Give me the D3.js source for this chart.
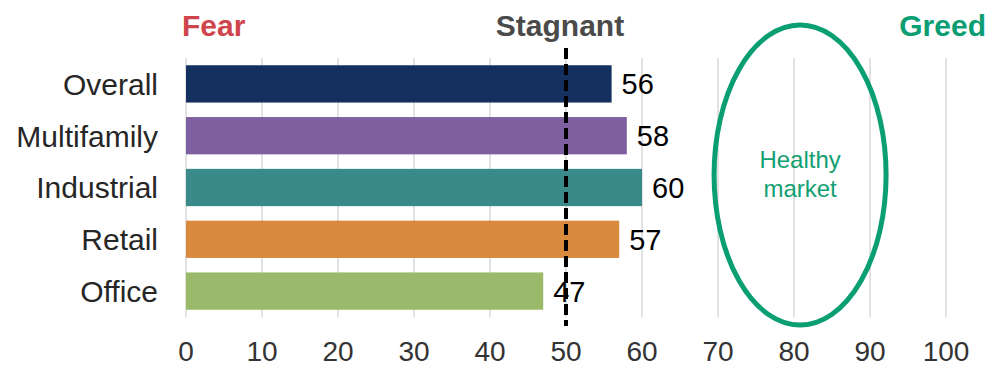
<!DOCTYPE html>
<html>
<head>
<meta charset="utf-8">
<script src="https://cdn.jsdelivr.net/npm/d3@7"></script>
<style>
  body { margin: 0; background: #fff; }
  text { font-family: "Liberation Sans", Arial, sans-serif; }
</style>
</head>
<body>
<svg id="chart" width="988" height="367"></svg>
<script>
var categories = ["Overall", "Multifamily", "Industrial", "Retail", "Office"];
var values = [56, 58, 60, 57, 47];
var barColors = ["#13305f", "#7e5f9f", "#3b8a8a", "#d98a3e", "#9bb96a"];
var ticks = [0, 10, 20, 30, 40, 50, 60, 70, 80, 90, 100];
var stagnantAt = 50;
var healthyCenter = 80.8;

var svg = d3.select("#chart");
var x = d3.scaleLinear().domain([0, 100]).range([186, 946]);
var y = d3.scaleBand().domain(categories).range([58, 317])
    .paddingInner(0.28).paddingOuter(0.14);

// gridlines
svg.append("g").selectAll("line").data(ticks).enter().append("line")
    .attr("x1", function(d) { return x(d); })
    .attr("x2", function(d) { return x(d); })
    .attr("y1", 58).attr("y2", 317)
    .attr("stroke", "#d9d9d9").attr("stroke-width", 1.5);

// tick labels
svg.append("g").selectAll("text").data(ticks).enter().append("text")
    .attr("x", function(d) { return x(d); })
    .attr("y", 361)
    .attr("text-anchor", "middle")
    .attr("font-size", 28)
    .attr("fill", "#333")
    .text(String);

// bars
svg.append("g").selectAll("rect").data(values).enter().append("rect")
    .attr("x", x(0))
    .attr("y", function(d, i) { return y(categories[i]); })
    .attr("width", function(d) { return x(d) - x(0); })
    .attr("height", y.bandwidth())
    .attr("fill", function(d, i) { return barColors[i]; });

// category labels
svg.append("g").selectAll("text").data(categories).enter().append("text")
    .attr("x", 158)
    .attr("y", function(d) { return y(d) + y.bandwidth() / 2; })
    .attr("dy", "0.36em")
    .attr("text-anchor", "end")
    .attr("font-size", 30)
    .attr("fill", "#262626")
    .text(String);

// dashed stagnant line
svg.append("line")
    .attr("x1", x(stagnantAt)).attr("x2", x(stagnantAt))
    .attr("y1", 48).attr("y2", 326)
    .attr("stroke", "#000").attr("stroke-width", 4)
    .attr("stroke-dasharray", "11,5");

// value labels
svg.append("g").selectAll("text").data(values).enter().append("text")
    .attr("x", function(d) { return x(d) + 10; })
    .attr("y", function(d, i) { return y(categories[i]) + y.bandwidth() / 2; })
    .attr("dy", "0.36em")
    .attr("font-size", 29)
    .attr("fill", "#000")
    .text(String);

// healthy market ellipse
svg.append("ellipse")
    .attr("cx", x(healthyCenter)).attr("cy", 175)
    .attr("rx", 86).attr("ry", 150)
    .attr("fill", "none")
    .attr("stroke", "#0a9e73").attr("stroke-width", 5);

svg.append("text")
    .attr("x", x(healthyCenter)).attr("y", 168)
    .attr("text-anchor", "middle").attr("font-size", 24)
    .attr("fill", "#11a072")
    .text("Healthy");
svg.append("text")
    .attr("x", x(healthyCenter)).attr("y", 197)
    .attr("text-anchor", "middle").attr("font-size", 24)
    .attr("fill", "#11a072")
    .text("market");

// headings
svg.append("text").attr("x", 182).attr("y", 36)
    .attr("font-size", 30).attr("font-weight", "bold")
    .attr("fill", "#d0454c").text("Fear");
svg.append("text").attr("x", 560).attr("y", 36)
    .attr("text-anchor", "middle")
    .attr("font-size", 30).attr("font-weight", "bold")
    .attr("fill", "#4a4a4a").text("Stagnant");
svg.append("text").attr("x", 986).attr("y", 36)
    .attr("text-anchor", "end")
    .attr("font-size", 30).attr("font-weight", "bold")
    .attr("fill", "#0a9e73").text("Greed");
</script>
</body>
</html>
